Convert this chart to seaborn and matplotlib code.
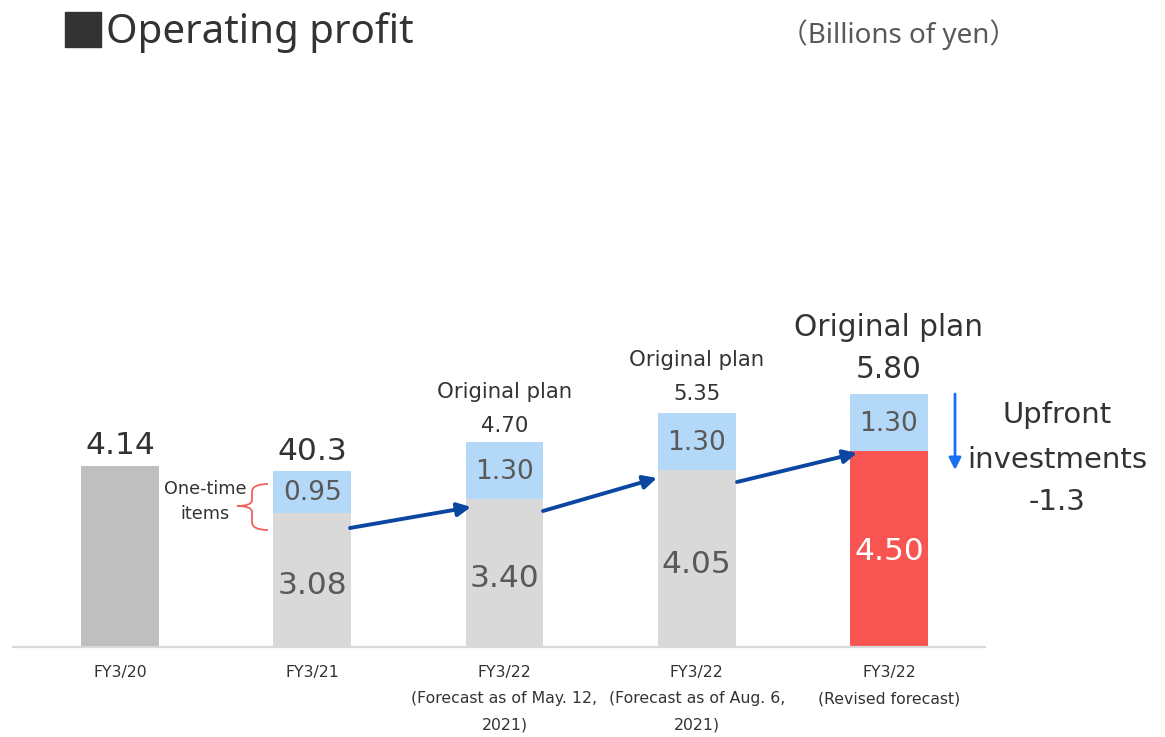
import matplotlib
matplotlib.use("Agg")
import matplotlib.pyplot as plt
import seaborn as sns
import numpy as np
from matplotlib.path import Path
from matplotlib.patches import PathPatch, Rectangle

# ---------------- data ----------------
categories = ["FY3/20", "FY3/21", "FY3/22\n(Forecast as of May. 12,\n2021)",
              "FY3/22\n(Forecast as of Aug. 6,\n2021)", "FY3/22\n(Revised forecast)"]
base_values = [4.14, 3.08, 3.40, 4.05, 4.50]
top_values = [0.00, 0.95, 1.30, 1.30, 1.30]
total_labels = ["4.14", "40.3", "4.70", "5.35", "5.80"]
plan_label = "Original plan"
base_labels = ["", "3.08", "3.40", "4.05", "4.50"]
top_labels = ["", "0.95", "1.30", "1.30", "1.30"]
base_colors = ["#BFBFBF", "#D9D9D9", "#D9D9D9", "#D9D9D9", "#F85552"]
top_color = "#B4D8F7"
upfront_lines = ["Upfront", "investments", "-1.3"]

totals = [b + t for b, t in zip(base_values, top_values)]

sns.set_theme(style="white")
plt.rcParams['font.family'] = ['DejaVu Sans']

W, H = 1165, 737
fig = plt.figure(figsize=(W / 100, H / 100), dpi=100)

ax_left_px, ax_right_px = 13, 985
base_px, top_px = 647, 100
ax = fig.add_axes([ax_left_px / W, (H - base_px) / H,
                   (ax_right_px - ax_left_px) / W, (base_px - top_px) / H])

PX_PER_UNIT = 43.65
SPACING = 192.25
C0 = 120

def px2d(px, py):
    return ((px - C0) / SPACING, (base_px - py) / PX_PER_UNIT)

def ypx(py):
    return (base_px - py) / PX_PER_UNIT

# stacked bars: totals (blue) then base drawn over them
sns.barplot(x=categories, y=totals, order=categories, hue=categories,
            palette=[top_color] * 5, legend=False, width=0.405,
            saturation=1, linewidth=0, ax=ax)
sns.barplot(x=categories, y=base_values, order=categories, hue=categories,
            palette=base_colors, legend=False, width=0.405,
            saturation=1, linewidth=0, ax=ax)

ax.set_xlim(-(C0 - ax_left_px) / SPACING, 4 + (ax_right_px - 889) / SPACING)
ax.set_ylim(0, (base_px - top_px) / PX_PER_UNIT)
ax.set_yticks([])
ax.set_ylabel("")
ax.set_xlabel("")
for s in ["top", "left", "right"]:
    ax.spines[s].set_visible(False)
ax.spines["bottom"].set_color("#D9D9D9")
ax.spines["bottom"].set_linewidth(1.6)
ax.set_xticks(range(5))
ax.set_xticklabels(categories, fontsize=11.3, color="#333333", linespacing=1.95)
ax.tick_params(axis="x", length=0, pad=13)

# ---- value labels inside bars ----
val_col = "#595959"
for i in range(5):
    if base_labels[i]:
        yb = base_values[i] / 2 - (0.06 if i == 4 else 0.13)
        ax.text(i, yb, base_labels[i], ha="center", va="center", fontsize=22.5,
                color="white" if i == 4 else val_col)
    if top_labels[i]:
        ax.text(i, base_values[i] + top_values[i] / 2 - 0.03, top_labels[i],
                ha="center", va="center", fontsize=19, color=val_col)

# ---- labels above bars ----
dark = "#333333"
ax.text(0, ypx(445), total_labels[0], ha="center", va="center", fontsize=22.5, color=dark)
ax.text(1, ypx(451), total_labels[1], ha="center", va="center", fontsize=22.5, color=dark)
ax.text(2, ypx(392), plan_label, ha="center", va="center", fontsize=15.3, color=dark)
ax.text(2, ypx(426), total_labels[2], ha="center", va="center", fontsize=15.3, color=dark)
ax.text(3, ypx(360), plan_label, ha="center", va="center", fontsize=15.3, color=dark)
ax.text(3, ypx(394), total_labels[3], ha="center", va="center", fontsize=15.3, color=dark)
ax.text(4, ypx(327), plan_label, ha="center", va="center", fontsize=21.3, color=dark)
ax.text(4, ypx(370), total_labels[4], ha="center", va="center", fontsize=21.3, color=dark)

# ---- arrows between bars ----
arrow_segs = [((350, 528), (471, 507)), ((543, 511), (657, 478)), ((737, 482), (857, 453))]
for (p0, p1) in arrow_segs:
    ax.annotate("", xy=px2d(*p1), xytext=px2d(*p0),
                arrowprops=dict(arrowstyle="-|>", color="#0B47A1", lw=2.8,
                                mutation_scale=20, shrinkA=0, shrinkB=0),
                annotation_clip=False)

# down arrow for upfront investments
ax.annotate("", xy=px2d(955, 470), xytext=px2d(955, 394),
            arrowprops=dict(arrowstyle="-|>", color="#1A6FF0", lw=2,
                            mutation_scale=18, shrinkA=0, shrinkB=0),
            annotation_clip=False)
for line, py in zip(upfront_lines, [415, 460, 502]):
    xu, yu = px2d(1057, py)
    ax.text(xu, yu, line, ha="center", va="center", fontsize=21,
            color=dark, clip_on=False)

# ---- brace for one-time items ----
pts_px = [(268, 484), (252, 484), (252, 492), (252, 500), (252, 506), (237, 506),
          (252, 506), (252, 512), (252, 522), (252, 530), (268, 530)]
codes = [Path.MOVETO, Path.CURVE3, Path.CURVE3, Path.LINETO, Path.CURVE3, Path.CURVE3,
         Path.CURVE3, Path.CURVE3, Path.LINETO, Path.CURVE3, Path.CURVE3]
pts = [px2d(*p) for p in pts_px]
ax.add_patch(PathPatch(Path(pts, codes), fill=False, edgecolor="#F0605D",
                       lw=1.3, clip_on=False))
for line, py in zip(["One-time", "items"], [489, 514]):
    xo, yo = px2d(205, py)
    ax.text(xo, yo, line, ha="center", va="center", fontsize=12.7, color=dark)

# ---- title ----
fig.patches.append(Rectangle((65 / W, 1 - 47 / H), 36 / W, 35 / H,
                             transform=fig.transFigure, color="#333333"))
fig.text(106 / W, 1 - 33 / H, "Operating profit", ha="left", va="center",
         fontsize=29, color="#333333", family=["Noto Sans", "DejaVu Sans"])
fig.text(1017 / W, 1 - 35 / H, "（Billions of yen）", ha="right", va="center",
         fontsize=20, color="#595959",
         family=["Noto Sans", "Noto Sans CJK JP", "DejaVu Sans"])

fig.savefig("out.png", dpi=100)
